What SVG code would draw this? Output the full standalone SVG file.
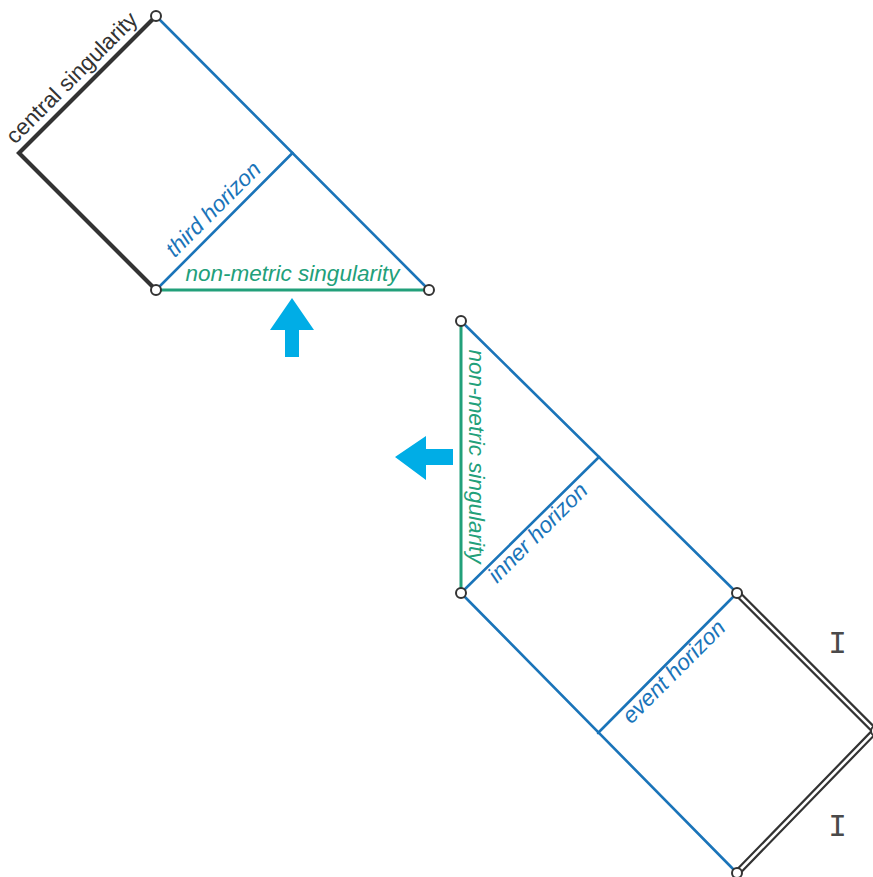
<svg xmlns="http://www.w3.org/2000/svg" width="873" height="877" viewBox="0 0 873 877">
<style>
.blue{stroke:#1a74b9;stroke-width:2.6;fill:none;stroke-linecap:round}
.green{stroke:#22a07a;stroke-width:3;fill:none}
.sing{stroke:#333;stroke-width:4.2;fill:none;stroke-linejoin:miter}
.dbl-o{stroke:#333;stroke-width:7;fill:none;stroke-linejoin:miter}
.dbl-i{stroke:#fff;stroke-width:2.6;fill:none;stroke-linejoin:miter}
.v{fill:#fff;stroke:#333;stroke-width:2}
.arrow{fill:#00ade6}
text{font-family:"Liberation Sans",Arial,sans-serif;font-size:22.5px}
.tb{fill:#1a74b9;font-style:italic}
.tg{fill:#22a07a;font-style:italic}
.tk{fill:#333}
.scri{font-family:"Liberation Mono","Courier New",monospace;font-size:31px;fill:#4a4a4a}
</style>
<g id="connectors">
  <polyline class="sing" points="156,16 19,153 156,290"/>
  <line class="blue" x1="156" y1="16" x2="429" y2="290"/>
  <line class="blue" x1="156" y1="290" x2="292.5" y2="153"/>
  <line class="green" x1="156" y1="290" x2="429" y2="290"/>
  <line class="green" x1="461" y1="321" x2="461" y2="593"/>
  <line class="blue" x1="461" y1="321" x2="737" y2="593"/>
  <line class="blue" x1="461" y1="593" x2="599" y2="457"/>
  <line class="blue" x1="461" y1="593" x2="737" y2="873"/>
  <line class="blue" x1="598" y1="733" x2="737" y2="593"/>
  <polyline class="dbl-o" points="737,593 875,731 737,873"/>
  <polyline class="dbl-i" points="737,593 875,731 737,873"/>
</g>
<g id="vertices">
  <circle class="v" cx="156" cy="16" r="5"/>
  <circle class="v" cx="156" cy="290" r="5"/>
  <circle class="v" cx="429" cy="290" r="5"/>
  <circle class="v" cx="461" cy="321" r="5"/>
  <circle class="v" cx="461" cy="593" r="5"/>
  <circle class="v" cx="737" cy="593" r="5"/>
  <circle class="v" cx="737" cy="873" r="5"/>
  <circle class="v" cx="876" cy="731" r="5"/>
</g>
<g id="labels">
  <text class="tk" text-anchor="middle" transform="translate(77,83) rotate(-45)">central singularity</text>
  <text class="tb" text-anchor="middle" transform="translate(218.5,214.5) rotate(-45)">third horizon</text>
  <text class="tg" text-anchor="middle" x="292.5" y="281">non-metric singularity</text>
  <text class="tg" text-anchor="middle" transform="translate(469,456.5) rotate(90)">non-metric singularity</text>
  <text class="tb" text-anchor="middle" transform="translate(543,538) rotate(-45)">inner horizon</text>
  <text class="tb" text-anchor="middle" transform="translate(679,677) rotate(-45)">event horizon</text>
  <text class="scri" text-anchor="middle" x="837.5" y="653">I</text>
  <text class="scri" text-anchor="middle" x="837.5" y="836">I</text>
</g>
<g id="arrow-up">
  <polygon class="arrow" points="292,298 314,330 299,330 299,357 285,357 285,330 270,330"/>
</g>
<g id="arrow-left">
  <polygon class="arrow" points="395,457 426,436 426,449 453,449 453,465 426,465 426,480"/>
</g>
</svg>
